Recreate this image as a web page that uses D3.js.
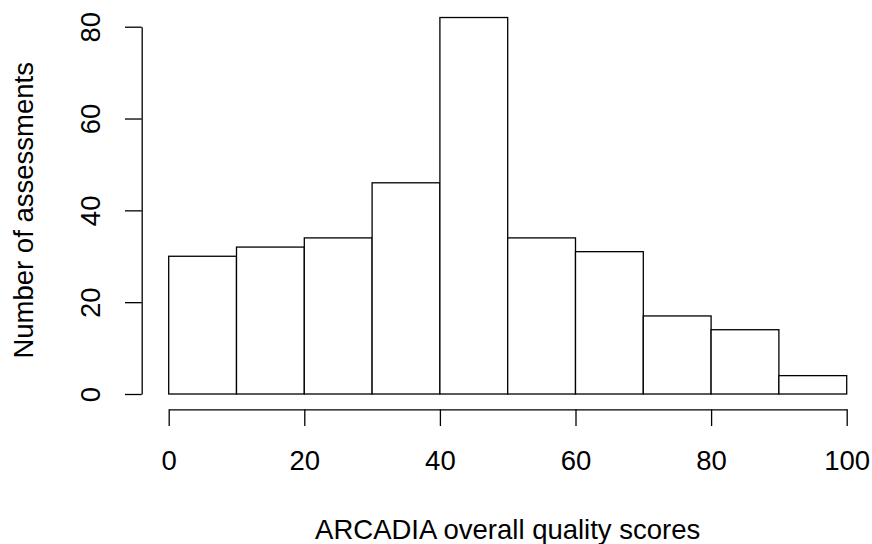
<!DOCTYPE html>
<html>
<head>
<meta charset="utf-8">
<script src="https://cdn.jsdelivr.net/npm/d3@7"></script>
<style>
  html, body { margin: 0; padding: 0; background: #fff; }
  svg { display: block; }
  text { font-family: "Liberation Sans", Arial, Helvetica, sans-serif; fill: #000; }
</style>
</head>
<body>
<script>
// Histogram data
const breaks = [0, 10, 20, 30, 40, 50, 60, 70, 80, 90, 100];
const counts = [30, 32, 34, 46, 82, 34, 31, 17, 14, 4];
const xTicks = [0, 20, 40, 60, 80, 100];
const yTicks = [0, 20, 40, 60, 80];
const xLabel = "ARCADIA overall quality scores";
const yLabel = "Number of assessments";

const W = 872, H = 544;
const fontSize = 27.5;

const svg = d3.select("body").append("svg")
  .attr("width", W).attr("height", H);

const x = d3.scaleLinear().domain([0, 100]).range([168.7, 846.7]);
const y = d3.scaleLinear().domain([0, 80]).range([394, 26.7]);

const bins = counts.map((c, i) => ({ x0: breaks[i], x1: breaks[i + 1], n: c }));

// Bars
svg.append("g").selectAll("rect")
  .data(bins)
  .join("rect")
  .attr("x", d => x(d.x0))
  .attr("y", d => y(d.n))
  .attr("width", d => x(d.x1) - x(d.x0))
  .attr("height", d => y(0) - y(d.n))
  .attr("fill", "#fff")
  .attr("stroke", "#000")
  .attr("stroke-width", 1.3);

// X axis
const xAxisY = 409.3;
const gx = svg.append("g")
  .attr("transform", `translate(0,${xAxisY})`)
  .call(d3.axisBottom(x).tickValues(xTicks).tickSize(16.7).tickSizeOuter(0).tickPadding(24).tickFormat(d3.format("d")));
gx.select(".domain").attr("stroke", "#000").attr("stroke-width", 1.3);
gx.selectAll(".tick line").attr("stroke", "#000").attr("stroke-width", 1.3);
gx.selectAll(".tick text")
  .style("font-size", fontSize + "px")
  .style("font-family", "'Liberation Sans', Arial, sans-serif")
  .attr("fill", "#000");

// Y axis
const yAxisX = 141.7;
const gy = svg.append("g")
  .attr("transform", `translate(${yAxisX},0)`)
  .call(d3.axisLeft(y).tickValues(yTicks).tickSize(16.7).tickSizeOuter(0).tickFormat(d3.format("d")));
gy.select(".domain").attr("stroke", "#000").attr("stroke-width", 1.3);
gy.selectAll(".tick line").attr("stroke", "#000").attr("stroke-width", 1.3);
gy.selectAll(".tick text")
  .attr("transform", "rotate(-90)")
  .attr("x", 0)
  .attr("y", 100 - yAxisX)
  .attr("dy", 0)
  .attr("text-anchor", "middle")
  .style("font-size", fontSize + "px")
  .style("font-family", "'Liberation Sans', Arial, sans-serif")
  .attr("fill", "#000");

// Axis titles
svg.append("text")
  .attr("x", (x(0) + x(100)) / 2)
  .attr("y", 539)
  .attr("text-anchor", "middle")
  .style("font-size", fontSize + "px")
  .text(xLabel);

svg.append("text")
  .attr("transform", `translate(32.7,${(y(0) + y(80)) / 2 - 0}) rotate(-90)`)
  .attr("text-anchor", "middle")
  .style("font-size", fontSize + "px")
  .text(yLabel);
</script>
</body>
</html>
